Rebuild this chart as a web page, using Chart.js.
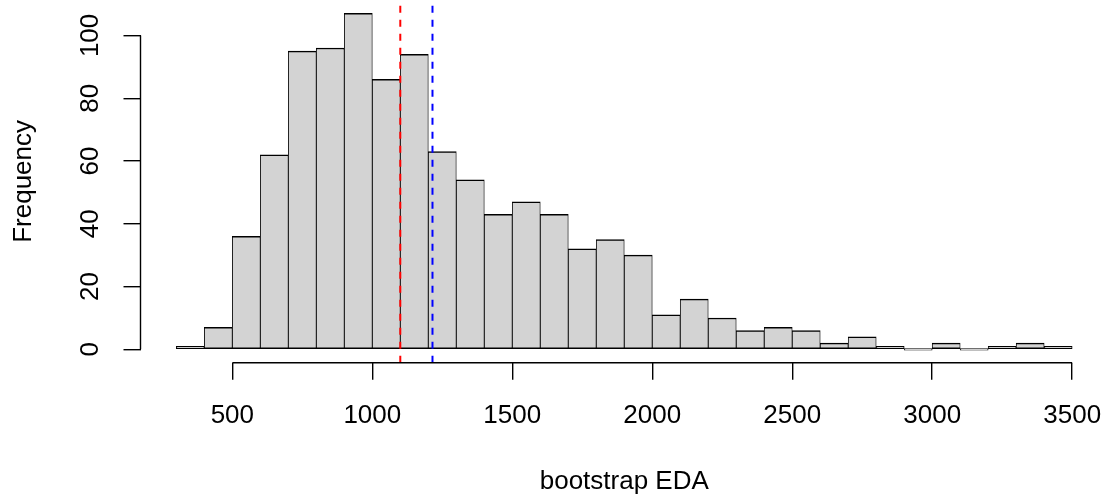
<!DOCTYPE html>
<html>
<head>
<meta charset="utf-8">
<script src="https://cdn.jsdelivr.net/npm/chart.js@4"></script>
<style>
  body { margin: 0; background: #fff; }
  canvas { display: block; }
</style>
</head>
<body>
<canvas id="histChart" width="1110" height="500"></canvas>
<script>
// bin left edges (width 100) and counts
const binStart = [300, 400, 500, 600, 700, 800, 900, 1000, 1100, 1200, 1300, 1400, 1500, 1600, 1700, 1800,
                  1900, 2000, 2100, 2200, 2300, 2400, 2500, 2600, 2700, 2800, 2900, 3000, 3100, 3200, 3300, 3400];
const counts = [1, 7, 36, 62, 95, 96, 107, 86, 94, 63, 54, 43, 47, 43, 32, 35,
                30, 11, 16, 10, 6, 7, 6, 2, 4, 1, 0, 2, 0, 1, 2, 1];
const binWidth = 100;

const xTicks = [500, 1000, 1500, 2000, 2500, 3000, 3500];
const yTicks = [0, 20, 40, 60, 80, 100];

// dashed reference lines
const redLineX = 1100;
const blueLineX = 1215;

const xTitle = 'bootstrap EDA';
const yTitle = 'Frequency';

const fontFam = '"Liberation Sans", Arial, Helvetica, sans-serif';
const yMin = -4.28, yMax = 111.28;

let histData = binStart.map((s, i) => ({ x: s + binWidth / 2, y: counts[i] }));

function vLine(xv, color) {
    return {
        type: 'line',
        data: [{ x: xv, y: yMin }, { x: xv, y: yMax }],
        borderColor: color,
        borderWidth: 2,
        borderDash: [7, 7],
        pointRadius: 0,
        fill: false,
        order: 1
    };
}

// R style axis lines: only from first to last tick
const axisLines = {
    id: 'axisLines',
    afterDraw(chart) {
        const ctx = chart.ctx;
        const xs = chart.scales.x, ys = chart.scales.y;
        const area = chart.chartArea;
        ctx.save();
        ctx.strokeStyle = '#000';
        ctx.lineWidth = 1.4;
        ctx.beginPath();
        ctx.moveTo(xs.getPixelForValue(xTicks[0]), area.bottom);
        ctx.lineTo(xs.getPixelForValue(xTicks[xTicks.length - 1]), area.bottom);
        ctx.moveTo(area.left, ys.getPixelForValue(yTicks[0]));
        ctx.lineTo(area.left, ys.getPixelForValue(yTicks[yTicks.length - 1]));
        ctx.stroke();
        ctx.restore();
    }
};

let config = {
    type: 'bar',
    data: {
        datasets: [
            {
                type: 'bar',
                data: histData,
                backgroundColor: '#D3D3D3',
                borderColor: '#000000',
                borderWidth: { top: 1.5, bottom: 1.5, left: 0.85, right: 0.85 },
                borderSkipped: false,
                barPercentage: 1,
                categoryPercentage: 1,
                minBarLength: 1.5,
                order: 2
            },
            vLine(redLineX, '#FF0000'),
            vLine(blueLineX, '#0000FF')
        ]
    },
    options: {
        responsive: false,
        animation: false,
        events: [],
        layout: { padding: { top: 0, left: 0, right: 2, bottom: 0 } },
        plugins: {
            legend: { display: false },
            tooltip: { enabled: false }
        },
        scales: {
            x: {
                type: 'linear',
                min: 172,
                max: 3628,
                offset: false,
                afterBuildTicks: (scale) => { scale.ticks = xTicks.map(v => ({ value: v })); },
                afterFit: (scale) => {
                    scale.height = 137.2;
                    scale.paddingLeft = 0;
                    scale.paddingRight = 0;
                },
                grid: { display: true, offset: false, drawOnChartArea: false, drawTicks: true, tickLength: 17, color: '#000', lineWidth: 1.4 },
                border: { display: false },
                ticks: {
                    color: '#000',
                    font: { family: fontFam, size: 26 },
                    padding: 20,
                    maxRotation: 0,
                    autoSkip: false,
                    callback: (v) => String(v)
                },
                title: {
                    display: true,
                    text: xTitle,
                    color: '#000',
                    font: { family: fontFam, size: 26 },
                    padding: { top: 0, bottom: 3 }
                }
            },
            y: {
                min: yMin,
                max: yMax,
                afterBuildTicks: (scale) => { scale.ticks = yTicks.map(v => ({ value: v })); },
                afterFit: (scale) => {
                    scale.width = 140.5;
                    scale.paddingTop = 0;
                    scale.paddingBottom = 0;
                },
                grid: { display: true, drawOnChartArea: false, drawTicks: true, tickLength: 17, color: '#000', lineWidth: 1.4 },
                border: { display: false },
                ticks: {
                    color: '#000',
                    font: { family: fontFam, size: 26 },
                    padding: 11,
                    minRotation: 90,
                    maxRotation: 90,
                    crossAlign: 'center',
                    autoSkip: false,
                    callback: (v) => String(v)
                },
                title: {
                    display: true,
                    text: yTitle,
                    color: '#000',
                    font: { family: fontFam, size: 26 },
                    padding: { top: 8, bottom: 0 }
                }
            }
        }
    },
    plugins: [axisLines]
};

let myChart = new Chart(document.getElementById('histChart'), config);
</script>
</body>
</html>
